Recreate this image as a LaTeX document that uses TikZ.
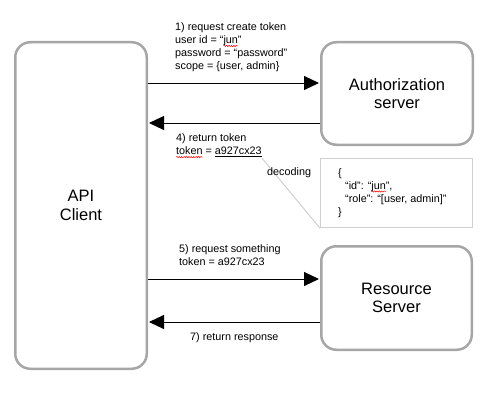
\documentclass[tikz,border=0pt]{standalone}
\usepackage{fontspec}
\setmainfont{Liberation Sans}
\usetikzlibrary{arrows.meta, positioning, decorations.pathmorphing}

\definecolor{boxgray}{RGB}{166,166,166}
\definecolor{calloutgray}{RGB}{208,208,208}

% red spell-check wave under a word
\newcommand\spellwave[1]{\tikz[baseline=(sw.base), trim left=(sw.west), trim right=(sw.east)]{\node[inner sep=0pt, outer sep=0pt, anchor=base, align=none] (sw) {#1};
    \draw[red, line width=0.5pt, decorate, decoration={snake, amplitude=0.6pt, segment length=2.4pt}] ([yshift=-2.2pt]sw.base west) -- ([yshift=-2.2pt]sw.base east);}}

\begin{document}
\begin{tikzpicture}[
    x=1pt, y=-1pt,
    font=\fontsize{10.8}{13}\selectfont,
    server_block/.style={draw=boxgray, line width=2.5pt, rounded corners=15pt, align=center, font=\fontsize{16.5}{18.3}\selectfont},
    note_block/.style={draw=calloutgray, line width=1.2pt, minimum width=152pt, minimum height=69pt},
    msg/.style={-{Triangle[length=15pt, width=14pt]}, line width=1pt, shorten >=1pt},
    msg_text/.style={anchor=west, align=left, inner sep=0pt}
]
\useasboundingbox (0,0) rectangle (502,412);

% --- Parties ---
\node[server_block, minimum width=131.5pt, minimum height=326.5pt] (client) at (81,205.5) {API\\Client};
\node[server_block, minimum width=151.5pt, minimum height=102.5pt] (auth) at (397,93.5) {Authorization\\server};
\node[server_block, minimum width=150.5pt, minimum height=103.5pt] (resource) at (396.5,298) {Resource\\Server};

% --- Decoded token ---
\node[note_block] (jwt) at (396.5,193) {};
\node[msg_text] (claims) at (338,193) {\{\\\hspace*{7pt}“id”: “\spellwave{jun}”,\\\hspace*{7pt}“role”: “[user, admin]”\\\}};

% --- Messages ---
\coordinate (m1) at (0,83);
\coordinate (m4) at (0,123);
\coordinate (m5) at (0,279);
\coordinate (m7) at (0,322);
\draw[msg] (client.east |- m1) -- (auth.west |- m1);
\draw[msg] (auth.west |- m4) -- (client.east |- m4);
\draw[msg] (client.east |- m5) -- (resource.west |- m5);
\draw[msg] (resource.west |- m7) -- (client.east |- m7);

% --- Message labels ---
\node[msg_text] (req_token) at (175,47.5) {1) request create token\\user id = “\spellwave{jun}”\\password = “password”\\scope = \{user, admin\}};
\node[msg_text] (ret_token) at (176,146) {4) return token\\\spellwave{token} = \underline{a927cx23}};
\node[msg_text] (req_res) at (179,255.5) {5) request something\\token = a927cx23};
\node[msg_text] (ret_res) at (190,338) {7) return response};

% --- Callout ---
\draw[draw=calloutgray, line width=1pt] (ret_token.south east) -- (jwt.south west);
\node[msg_text] (decode) at (267,173) {decoding};

\end{tikzpicture}
\end{document}
